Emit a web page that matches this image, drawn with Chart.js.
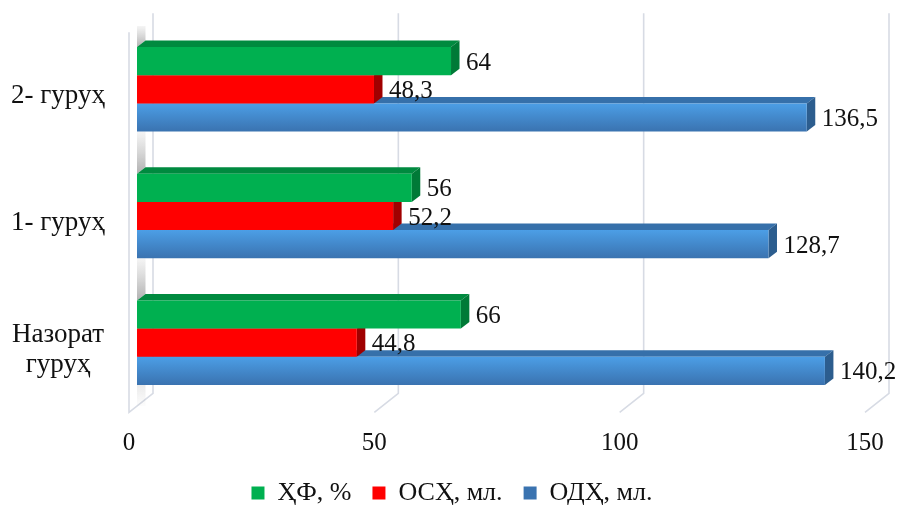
<!DOCTYPE html>
<html>
<head>
<meta charset="utf-8">
<script src="https://cdn.jsdelivr.net/npm/chart.js@4.4.1/dist/chart.umd.min.js"></script>
<style>
    html, body { margin: 0; padding: 0; background: #fff; }
</style>
</head>
<body>
<canvas id="chart" width="900" height="507"></canvas>
<script>
// Данные
const categories = ['2- гуруҳ', '1- гуруҳ', ['Назорат', 'гуруҳ']];
const seriesNames = ['ҲФ, %', 'ОСҲ, мл.', 'ОДҲ, мл.'];
const hfValues = [64, 56, 66];
const oshValues = [48.3, 52.2, 44.8];
const odhValues = [136.5, 128.7, 140.2];
const xTicks = [0, 50, 100, 150];

const FONT = '"Liberation Serif", "Times New Roman", serif';
const CAT_PCT = 0.667;

// 3D box: full depth and where the bars stand inside it
const DEPTH_X = 24, DEPTH_Y = -19;
const FRONT = 1 / 3;
const BAR_DX = 8.5, BAR_DY = -6.5;

const topColors = ['#008a3f', '#b00000', '#3670aa'];
const sideColors = ['#007a37', '#a00000', '#2c5d8e'];

function comma(v) {
    return String(v).replace('.', ',');
}

// Gradient for blue bars (lighter at the top of each bar)
function blueFill(c) {
    const chart = c.chart;
    const area = chart.chartArea;
    if (!area || c.type !== 'data') return '#4a8fd6';
    const band = (area.bottom - area.top) / categories.length;
    const thick = band * CAT_PCT / 3;
    const center = chart.scales.y.getPixelForValue(c.dataIndex) + thick;
    const g = chart.ctx.createLinearGradient(0, center - thick / 2, 0, center + thick / 2);
    g.addColorStop(0, '#4c9ee6');
    g.addColorStop(1, '#3a73b0');
    return g;
}

const box3d = {
    id: 'box3d',
    afterLayout(chart) {
        // legend centred on the whole canvas, not on the padded area
        if (chart.legend) {
            chart.legend.left = 0;
            chart.legend.right = 904;
        }
    },
    beforeDatasetsDraw(chart) {
        const { ctx, chartArea: a, scales: { x, y } } = chart;
        const fx = -DEPTH_X * FRONT, fy = -DEPTH_Y * FRONT;
        const bx = DEPTH_X * (1 - FRONT), by = DEPTH_Y * (1 - FRONT);
        ctx.save();

        // slanted grid lines
        ctx.strokeStyle = '#d7dbe4';
        ctx.lineWidth = 1.6;
        xTicks.forEach(function (v, i) {
            const px = x.getPixelForValue(v);
            ctx.beginPath();
            ctx.moveTo(px + bx, a.top + by);
            ctx.lineTo(px + bx, a.bottom + by);
            ctx.lineTo(px + fx, a.bottom + fy);
            if (i === 0) ctx.lineTo(px + fx, a.top + fy);
            ctx.stroke();
        });

        // shading on the left wall between groups
        const base = x.getPixelForValue(0);
        const band = (a.bottom - a.top) / categories.length;
        const groupH = band * CAT_PCT;
        const gap = band - groupH;
        categories.forEach(function (c, i) {
            const gTop = y.getPixelForValue(i) - groupH / 2;
            const from = Math.max(a.top, gTop - gap);
            const g = ctx.createLinearGradient(0, from, 0, gTop);
            g.addColorStop(0, 'rgba(120,120,120,0.08)');
            g.addColorStop(1, 'rgba(80,80,80,0.45)');
            ctx.fillStyle = g;
            ctx.beginPath();
            ctx.moveTo(base, from);
            ctx.lineTo(base + BAR_DX, from);
            ctx.lineTo(base + BAR_DX, gTop + BAR_DY);
            ctx.lineTo(base, gTop);
            ctx.closePath();
            ctx.fill();
        });
        const lastBottom = y.getPixelForValue(categories.length - 1) + groupH / 2;
        const g2 = ctx.createLinearGradient(0, lastBottom, 0, a.bottom);
        g2.addColorStop(0, 'rgba(120,120,120,0.15)');
        g2.addColorStop(1, 'rgba(120,120,120,0.02)');
        ctx.fillStyle = g2;
        ctx.fillRect(base, lastBottom, BAR_DX, a.bottom - lastBottom);

        // top and side faces of the bars, back series first
        for (let d = chart.data.datasets.length - 1; d >= 0; d--) {
            const meta = chart.getDatasetMeta(d);
            meta.data.forEach(function (bar) {
                const p = bar.getProps(['x', 'y', 'base', 'height'], true);
                const t = p.y - p.height / 2, b = p.y + p.height / 2;
                ctx.fillStyle = topColors[d];
                ctx.beginPath();
                ctx.moveTo(p.base, t);
                ctx.lineTo(p.x, t);
                ctx.lineTo(p.x + BAR_DX, t + BAR_DY);
                ctx.lineTo(p.base + BAR_DX, t + BAR_DY);
                ctx.closePath();
                ctx.fill();
                ctx.fillStyle = sideColors[d];
                ctx.beginPath();
                ctx.moveTo(p.x, t);
                ctx.lineTo(p.x + BAR_DX, t + BAR_DY);
                ctx.lineTo(p.x + BAR_DX, b + BAR_DY);
                ctx.lineTo(p.x, b);
                ctx.closePath();
                ctx.fill();
            });
        }
        ctx.restore();
    },
    afterDatasetsDraw(chart) {
        const ctx = chart.ctx;
        ctx.save();
        ctx.font = '25px ' + FONT;
        ctx.fillStyle = '#111';
        ctx.textAlign = 'left';
        ctx.textBaseline = 'middle';
        chart.data.datasets.forEach(function (ds, d) {
            chart.getDatasetMeta(d).data.forEach(function (bar, i) {
                const p = bar.getProps(['x', 'y'], true);
                ctx.fillText(comma(ds.data[i]), p.x + 15, p.y + 2);
            });
        });
        ctx.restore();
    }
};

new Chart(document.getElementById('chart'), {
    type: 'bar',
    data: {
        labels: categories,
        datasets: [
            { label: seriesNames[0], data: hfValues, backgroundColor: '#00b050' },
            { label: seriesNames[1], data: oshValues, backgroundColor: '#ff0000' },
            { label: seriesNames[2], data: odhValues, backgroundColor: blueFill }
        ]
    },
    options: {
        indexAxis: 'y',
        responsive: false,
        animation: false,
        categoryPercentage: CAT_PCT,
        barPercentage: 1,
        layout: { padding: { top: 26, right: 27, left: 0, bottom: 0 } },
        scales: {
            x: {
                min: 0,
                max: 150,
                ticks: {
                    stepSize: 50,
                    font: { family: FONT, size: 25 },
                    color: '#111',
                    padding: 22,
                    labelOffset: -8
                },
                grid: { display: false, drawTicks: false },
                border: { display: false },
                afterFit: function (s) {
                    s.height = 53;
                    s.paddingLeft = 0;
                    s.paddingRight = 0;
                }
            },
            y: {
                ticks: {
                    font: { family: FONT, size: 27, lineHeight: 1.1 },
                    color: '#111',
                    crossAlign: 'center',
                    padding: 32,
                    labelOffset: 7
                },
                grid: { display: false, drawTicks: false },
                border: { display: false },
                afterFit: function (s) {
                    s.width = 137;
                    s.paddingTop = 0;
                    s.paddingBottom = 0;
                }
            }
        },
        plugins: {
            legend: {
                position: 'bottom',
                maxHeight: 48,
                labels: {
                    boxWidth: 13,
                    boxHeight: 13,
                    padding: 21,
                    color: '#111',
                    font: { family: FONT, size: 26 }
                }
            },
            tooltip: { enabled: false }
        }
    },
    plugins: [box3d]
});
</script>
</body>
</html>
